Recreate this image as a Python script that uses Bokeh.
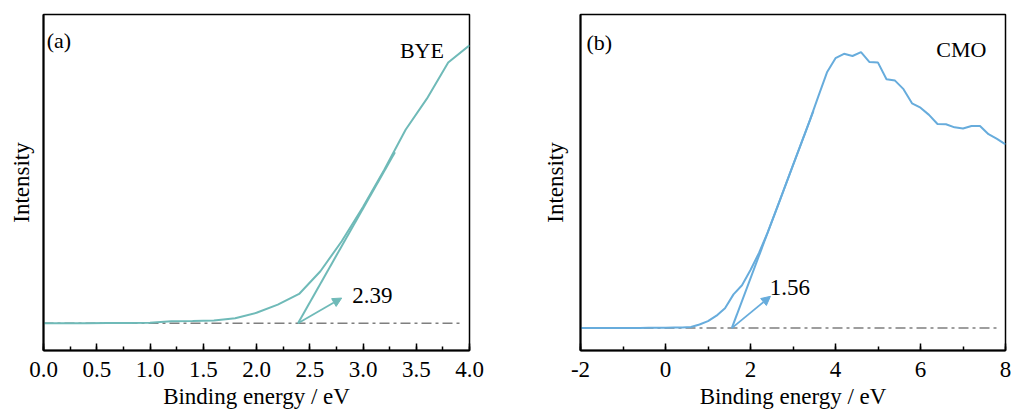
from bokeh.plotting import figure
from bokeh.layouts import row
from bokeh.models import (Range1d, SingleIntervalTicker, FixedTicker, PrintfTickFormatter,
                          Arrow, NormalHead, ColumnDataSource)
from bokeh.core.properties import value
from bokeh.embed import file_html
from bokeh.resources import INLINE

# ---------------- data ----------------
# panel (a) BYE
bye_energy = [0.0, 0.2, 0.4, 0.6, 0.8, 1.0, 1.2, 1.4, 1.6, 1.8, 2.0,
              2.2, 2.4, 2.6, 2.8, 3.0, 3.2, 3.4, 3.6, 3.8, 4.0]
bye_intensity = [0.0, 0.0, 0.0, 0.001, 0.001, 0.002, 0.007, 0.008, 0.010, 0.018, 0.038,
                 0.068, 0.107, 0.190, 0.300, 0.425, 0.562, 0.708, 0.822, 0.954, 1.017]
bye_onset = 2.39
bye_tangent_end = [3.3, 0.626]
bye_arrow_end = [2.80, 0.092]
bye_label_pos = [2.90, 0.101]

# panel (b) CMO
cmo_energy = [-2.0, -1.8, -1.6, -1.4, -1.2, -1.0, -0.8, -0.6, -0.4, -0.2, 0.0,
              0.2, 0.4, 0.6, 0.8, 1.0, 1.2, 1.4, 1.6, 1.8, 2.0,
              2.2, 2.4, 2.6, 2.8, 3.0, 3.2, 3.4, 3.6, 3.8, 4.0,
              4.2, 4.4, 4.6, 4.8, 5.0, 5.2, 5.4, 5.6, 5.8, 6.0,
              6.2, 6.4, 6.6, 6.8, 7.0, 7.2, 7.4, 7.6, 7.8, 8.0]
cmo_intensity = [0.0, 0.0, 0.0, 0.0, 0.0, 0.0, 0.0, 0.0, 0.001, 0.001, 0.001,
                 0.002, 0.002, 0.004, 0.013, 0.025, 0.045, 0.072, 0.122, 0.155, 0.210,
                 0.272, 0.344, 0.425, 0.507, 0.589, 0.671, 0.753, 0.840, 0.925, 0.976,
                 0.992, 0.984, 0.998, 0.962, 0.960, 0.900, 0.895, 0.864, 0.813, 0.797,
                 0.771, 0.738, 0.737, 0.726, 0.722, 0.731, 0.731, 0.701, 0.684, 0.664]
cmo_onset = 1.56
cmo_tangent_end = [3.48, 0.785]
cmo_arrow_end = [2.47, 0.115]
cmo_label_pos = [2.455, 0.146]

FONT = "Liberation Serif"
TEAL = "#6fbab8"
BLUE = "#67acdc"
GREY = "#7f7f7f"


def make_panel(xs, ys, color, x_range, y_range, major, fmt, width, bl, br, ylab_standoff,
               onset, tan_end, arr_end, lab_pos, lab_text, tag, tag_pos, name, name_pos,
               dash_end):
    p = figure(width=width, height=414, output_backend="svg", toolbar_location=None,
               x_range=Range1d(*x_range), y_range=Range1d(*y_range),
               min_border_left=bl, min_border_right=br, min_border_top=14, min_border_bottom=64)
    p.grid.visible = False
    p.outline_line_color = "black"
    p.outline_line_width = 1.5
    p.outline_line_alpha = 1.0

    # x axis
    p.xaxis.ticker = SingleIntervalTicker(interval=major, num_minor_ticks=2)
    p.xaxis.formatter = PrintfTickFormatter(format=fmt)
    p.xaxis.major_tick_in = 7
    p.xaxis.major_tick_out = 0
    p.xaxis.minor_tick_in = 4
    p.xaxis.minor_tick_out = 0
    p.xaxis.axis_line_width = 2
    p.xaxis.major_tick_line_width = 1.5
    p.xaxis.minor_tick_line_width = 1.5
    p.xaxis.major_label_text_font = FONT
    p.xaxis.major_label_text_font_size = "23px"
    p.xaxis.major_label_text_color = "black"
    p.xaxis.major_label_standoff = 11
    p.xaxis.axis_label = "Binding energy / eV"
    p.xaxis.axis_label_text_font = FONT
    p.xaxis.axis_label_text_font_size = "23px"
    p.xaxis.axis_label_text_font_style = "normal"
    p.xaxis.axis_label_text_color = "black"
    p.xaxis.axis_label_standoff = 4

    # y axis
    p.yaxis.ticker = FixedTicker(ticks=[])
    p.yaxis.major_tick_line_color = None
    p.yaxis.minor_tick_line_color = None
    p.yaxis.axis_line_width = 2
    p.yaxis.axis_label = "Intensity"
    p.yaxis.axis_label_text_font = FONT
    p.yaxis.axis_label_text_font_size = "23px"
    p.yaxis.axis_label_text_font_style = "normal"
    p.yaxis.axis_label_text_color = "black"
    p.yaxis.axis_label_standoff = ylab_standoff

    # baseline (dash-dot)
    p.line([x_range[0], dash_end], [0, 0], line_color=GREY, line_width=1.5, line_dash="10 4 3 4")
    # spectrum
    p.line(xs, ys, line_color=color, line_width=2)
    # tangent
    p.line([onset, tan_end[0]], [0, tan_end[1]], line_color=color, line_width=2)
    # arrow
    p.add_layout(Arrow(end=NormalHead(size=9, fill_color=color, line_color=color),
                       x_start=onset, y_start=0, x_end=arr_end[0], y_end=arr_end[1],
                       line_color=color, line_width=1.8))
    # texts
    src = ColumnDataSource(dict(x=[lab_pos[0]], y=[lab_pos[1]], t=[lab_text]))
    p.text(x="x", y="y", text="t", source=src, text_font=value(FONT), text_font_size="23px",
           text_align="left", text_baseline="alphabetic", text_color="black")
    p.text(x=[tag_pos[0]], y=[tag_pos[1]], text=[tag], text_font=value(FONT), text_font_size="22px",
           text_align="left", text_baseline="alphabetic", text_color="black")
    p.text(x=[name_pos[0]], y=[name_pos[1]], text=[name], text_font=value(FONT), text_font_size="22px",
           text_align="right", text_baseline="alphabetic", text_color="black")
    return p


p1 = make_panel(bye_energy, bye_intensity, TEAL, (0, 4), (-0.1, 1.13), 0.5, "%.1f", 500, 43, 31, 10,
                bye_onset, bye_tangent_end, bye_arrow_end, bye_label_pos, "2.39",
                "(a)", (0.03, 1.035), "BYE", (3.76, 0.999), 3.93)
p2 = make_panel(cmo_energy, cmo_intensity, BLUE, (-2, 8), (-0.081, 1.134), 2, "%d", 512, 80, 7, 13,
                cmo_onset, cmo_tangent_end, cmo_arrow_end, cmo_label_pos, "1.56",
                "(b)", (-1.86, 1.033), "CMO", (7.55, 1.006), 7.87)

layout = row(p1, p2)
open("out.html", "w").write(file_html(layout, INLINE))
